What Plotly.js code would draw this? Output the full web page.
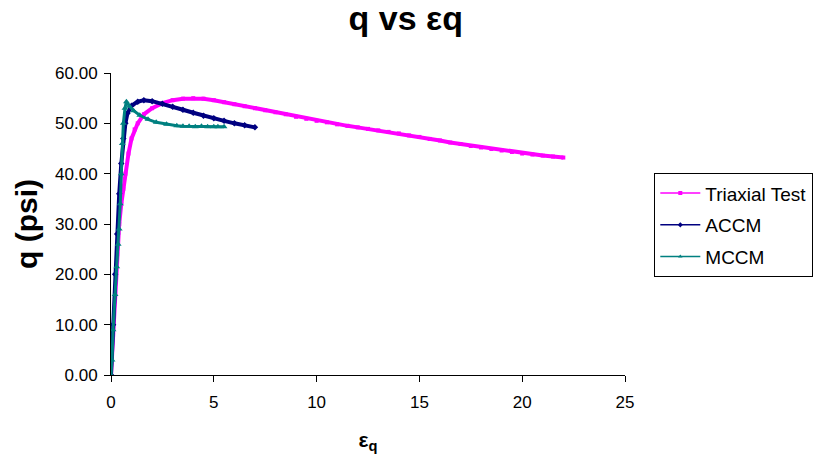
<!DOCTYPE html>
<html>
<head>
<meta charset="utf-8">
<script src="https://cdn.plot.ly/plotly-3.0.1.min.js"></script>
<style>html,body{margin:0;padding:0;background:#fff;}#chart{width:828px;height:465px;}</style>
</head>
<body>
<div id="chart"></div>
<script>
// Triaxial Test
var triaxialX = [0, 0.1, 0.2, 0.3, 0.4, 0.5, 0.6, 0.7, 0.85, 1.0, 1.15, 1.3, 1.6, 2.0, 2.5, 3.0, 3.5, 4.0, 4.5, 5.0, 5.5, 6.0, 6.5, 7.0, 7.5, 8.0, 8.5, 9.0, 9.5, 10.0, 10.5, 11.0, 11.5, 12.0, 12.5, 13.0, 13.5, 14.0, 14.5, 15.0, 15.5, 16.0, 16.5, 17.0, 17.5, 18.0, 18.5, 19.0, 19.5, 20.0, 20.5, 21.0, 21.5, 22.0];
var triaxialQ = [0, 8, 16, 24, 30, 34, 37, 40, 44, 47, 48.8, 50, 51.8, 53, 54, 54.6, 54.9, 55, 54.9, 54.6, 54.2, 53.8, 53.4, 53.0, 52.6, 52.2, 51.8, 51.3, 50.9, 50.5, 50.2, 49.8, 49.5, 49.2, 48.9, 48.6, 48.3, 48.0, 47.6, 47.3, 46.9, 46.6, 46.2, 45.9, 45.5, 45.2, 44.9, 44.6, 44.3, 44.0, 43.8, 43.6, 43.4, 43.2];
// ACCM
var accmX = [0, 0.1, 0.2, 0.3, 0.4, 0.5, 0.6, 0.7, 0.8, 1.0, 1.3, 1.6, 2.0, 2.5, 3.0, 3.5, 4.0, 4.5, 5.0, 5.5, 6.0, 6.5, 7.0];
var accmQ = [0, 10, 20, 28, 36, 42, 47, 50, 52, 53.5, 54.3, 54.6, 54.4, 53.9, 53.3, 52.7, 52.1, 51.5, 51.0, 50.5, 50.0, 49.6, 49.2];
// MCCM
var mccmX = [0, 0.05, 0.1, 0.2, 0.28, 0.35, 0.4, 0.45, 0.5, 0.55, 0.6, 0.68, 0.75, 0.9, 1.1, 1.4, 1.8, 2.2, 2.7, 3.2, 3.5, 3.8, 4.1, 4.4, 4.7, 5.0, 5.2, 5.5];
var mccmQ = [0, 3, 9, 16, 21.5, 26, 29, 34, 40, 46, 50, 53, 54.3, 53.4, 52.5, 51.6, 50.8, 50.2, 49.8, 49.5, 49.4, 49.4, 49.3, 49.4, 49.3, 49.3, 49.3, 49.3];

var seriesNames = ['Triaxial Test', 'ACCM', 'MCCM'];
var seriesColors = ['#FF00FF', '#000080', '#008080'];
var seriesSymbols = ['square', 'diamond', 'triangle-up'];
var yTickVals = [0, 10, 20, 30, 40, 50, 60];
var xTickVals = [0, 5, 10, 15, 20, 25];

var font = 'Liberation Sans, Arial, sans-serif';

var dataX = [triaxialX, accmX, mccmX];
var dataY = [triaxialQ, accmQ, mccmQ];
var lineW = [4, 4, 3];
var markS = [4, 5, 6];

var traces = [];
for (var i = 0; i < 3; i++) {
  traces.push({x: dataX[i], y: dataY[i], name: seriesNames[i], mode: 'lines+markers', showlegend: false,
    line: {color: seriesColors[i], width: lineW[i]}, marker: {symbol: seriesSymbols[i], size: markS[i], color: seriesColors[i]}});
}
// legend entries (thin lines with small markers, as in the reference legend)
for (var j = 0; j < 3; j++) {
  traces.push({x: [null], y: [null], name: seriesNames[j], mode: 'lines+markers', legendgroup: 'g' + j,
    line: {color: seriesColors[j], width: 1.5}, marker: {symbol: seriesSymbols[j], size: 4, color: seriesColors[j]}});
}

var layout = {
  width: 828, height: 465,
  margin: {l: 111, r: 203, t: 73, b: 90},
  paper_bgcolor: '#fff', plot_bgcolor: '#fff',
  font: {family: font, color: '#000'},
  title: {text: '<b>q vs εq</b>', font: {size: 34, family: font}, x: 0.49, xanchor: 'center', y: 0.962, yanchor: 'middle'},
  xaxis: {
    range: [0, 25], tickvals: xTickVals, showgrid: false, zeroline: false,
    showline: true, linecolor: '#000', linewidth: 1,
    ticks: 'outside', ticklen: 6, tickcolor: '#000', ticklabelstandoff: 6,
    tickfont: {size: 17, family: font},
    title: {text: '<b>ε<sub>q</sub></b>', font: {size: 21, family: font}, standoff: 20}
  },
  yaxis: {
    range: [0, 60], tickvals: yTickVals, tickformat: '.2f', showgrid: false, zeroline: false,
    showline: true, linecolor: '#000', linewidth: 1,
    ticks: 'outside', ticklen: 6, tickcolor: '#000', ticklabelstandoff: 3,
    tickfont: {size: 17, family: font},
    title: {text: '<b>q (psi)</b>', font: {size: 30, family: font}, standoff: 8}
  },
  showlegend: true,
  legend: {
    x: 1.057, xanchor: 'left', y: 0.668, yanchor: 'top',
    bordercolor: '#000', borderwidth: 1, bgcolor: '#fff',
    font: {size: 19, family: font}, tracegroupgap: 4, itemwidth: 40
  }
};

Plotly.newPlot('chart', traces, layout, {displayModeBar: false, staticPlot: true});
</script>
</body>
</html>
